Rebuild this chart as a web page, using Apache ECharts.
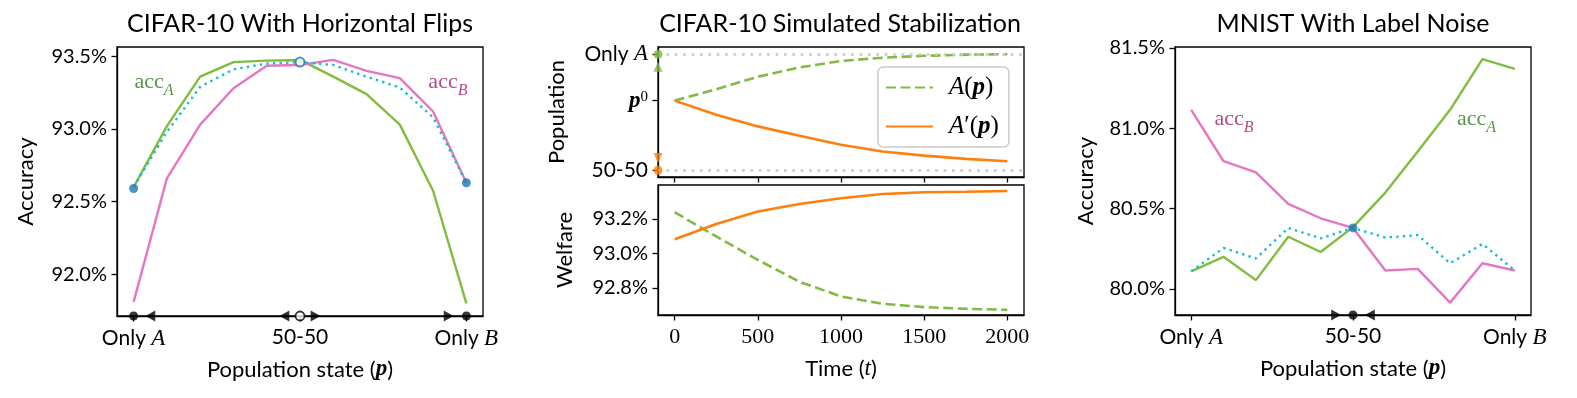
<!DOCTYPE html>
<html>
<head>
<meta charset="utf-8">
<script src="https://cdn.jsdelivr.net/npm/echarts@6/dist/echarts.min.js"></script>
<style>
  html, body { margin: 0; padding: 0; background: #fff; }
  #chart-container { width: 1577px; height: 398px; }
</style>
</head>
<body>
<div id="chart-container"></div>
<script>
// population state on the x axis: 0 = only A, 0.5 = 50-50, 1 = only B
var popStates = [0, 0.1, 0.2, 0.3, 0.4, 0.5, 0.6, 0.7, 0.8, 0.9, 1.0];
var popTickValues = [0, 0.5, 1];
var popTickLabels = ['Only A', '50-50', 'Only B'];

// CIFAR-10 with horizontal flips
var cifarAccA = [92.60, 93.02, 93.36, 93.46, 93.47, 93.475, 93.36, 93.24, 93.03, 92.575, 91.80];
var cifarAccB = [91.81, 92.66, 93.03, 93.28, 93.435, 93.44, 93.475, 93.40, 93.35, 93.12, 92.63];
var cifarWelfare = [92.60, 92.98, 93.29, 93.41, 93.45, 93.46, 93.44, 93.36, 93.285, 93.08, 92.63];
var cifarYTicks = [92.0, 92.5, 93.0, 93.5];
var cifarStable = [[0, 92.59], [1, 92.63]];
var cifarUnstable = [[0.5, 93.46]];
var cifarFlowLeft = [0.05, 0.453];
var cifarFlowRight = [0.547, 0.947];

// CIFAR-10 simulated stabilization
var timeSteps = [0, 250, 500, 750, 1000, 1250, 1500, 1750, 2000];
var timeTicks = [0, 500, 1000, 1500, 2000];
var popA = [0.80, 0.849, 0.903, 0.943, 0.971, 0.985, 0.993, 0.998, 1.0];
var popAprime = [0.80, 0.739, 0.689, 0.649, 0.610, 0.581, 0.563, 0.549, 0.539];
var welfareA = [93.239, 93.098, 92.962, 92.835, 92.750, 92.707, 92.688, 92.678, 92.672];
var welfareAprime = [93.082, 93.171, 93.243, 93.287, 93.320, 93.345, 93.355, 93.358, 93.362];
var popYTicks = [0.5, 0.8, 1.0];
var welfareYTicks = [92.8, 93.0, 93.2];

// MNIST with label noise
var mnistAccA = [80.11, 80.20, 80.055, 80.325, 80.23, 80.385, 80.60, 80.855, 81.115, 81.43, 81.37];
var mnistAccB = [81.115, 80.795, 80.725, 80.53, 80.44, 80.38, 80.115, 80.125, 79.915, 80.16, 80.115];
var mnistWelfare = [80.11, 80.255, 80.19, 80.38, 80.315, 80.38, 80.32, 80.335, 80.16, 80.28, 80.115];
var mnistYTicks = [80.0, 80.5, 81.0, 81.5];
var mnistStable = [[0.5, 80.38]];
var mnistFlowRight = [0.448];
var mnistFlowLeft = [0.552];

var GREEN = '#80bc40', PINK = '#e377c2', CYAN = '#17becf', ORANGE = '#ff7f0e', BLUE = '#1f77b4';
var SANS = 'Lato';
var SERIF = 'Liberation Serif';

var dom = document.getElementById('chart-container');
var myChart = echarts.init(dom, null, { renderer: 'canvas' });

var rich = {
  sn: { fontFamily: SANS, fontSize: 21, color: '#000' },
  it: { fontFamily: SERIF, fontStyle: 'italic', fontSize: 23, color: '#000' },
  bi: { fontFamily: SERIF, fontStyle: 'italic', fontWeight: 'bold', fontSize: 23, color: '#000' },
  sup: { fontFamily: SERIF, fontSize: 15, color: '#000', verticalAlign: 'top', lineHeight: 10 },
  lit: { fontFamily: SERIF, fontStyle: 'italic', fontSize: 25, color: '#000' },
  lbi: { fontFamily: SERIF, fontStyle: 'italic', fontWeight: 'bold', fontSize: 25, color: '#000' },
  lrm: { fontFamily: SERIF, fontSize: 25, color: '#000' }
};

function popLabel(v) {
  var i = popTickValues.indexOf(v);
  var s = i >= 0 ? popTickLabels[i] : '';
  if (s.indexOf('Only ') === 0) return '{sn|Only }{it|' + s.slice(5) + '}';
  return '{sn|' + s + '}';
}
function pct(d) { return function (v) { return v.toFixed(d) + '%'; }; }
function pairs(xs, ys) { return xs.map(function (x, i) { return [x, ys[i]]; }); }

var tickStyle = { show: true, length: 5.5, lineStyle: { color: '#000', width: 1.3 } };
var lineAx = { show: true, onZero: false, lineStyle: { color: '#000', width: 1.3 } };
var nameStyle = { fontFamily: SANS, fontSize: 22, color: '#000' };

function popXAxis(grid) {
  return {
    type: 'value', gridIndex: grid, min: -0.05, max: 1.05,
    axisLine: lineAx, splitLine: { show: false },
    axisTick: Object.assign({ customValues: popTickValues }, tickStyle),
    axisLabel: { customValues: popTickValues, formatter: popLabel, rich: rich, margin: 11 },
    name: '{sn|Population state (}{bi|p}{sn|)}', nameLocation: 'middle', nameGap: 42,
    nameTextStyle: Object.assign({ rich: { sn: { fontFamily: SANS, fontSize: 22, color: '#000' },
      bi: { fontFamily: SERIF, fontStyle: 'italic', fontWeight: 'bold', fontSize: 23, color: '#000' } } }, nameStyle)
  };
}
function accYAxis(grid, min, max, ticks, name, gap) {
  return {
    type: 'value', gridIndex: grid, min: min, max: max,
    axisLine: lineAx, splitLine: { show: false },
    axisTick: Object.assign({ customValues: ticks }, tickStyle),
    axisLabel: { customValues: ticks, formatter: pct(1), fontFamily: SANS, fontSize: 20, color: '#000', margin: 10 },
    name: name, nameLocation: 'middle', nameGap: gap, nameTextStyle: nameStyle
  };
}

function flow(grid, xs, y, rot) {
  return {
    type: 'scatter', xAxisIndex: grid, yAxisIndex: grid, clip: false, z: 5,
    symbol: 'triangle', symbolSize: [11, 10], symbolRotate: rot,
    itemStyle: { color: '#000' }, data: xs.map(function (x) { return [x, y]; })
  };
}
function dotsOnAxis(grid, xs, y, hollow) {
  return {
    type: 'scatter', xAxisIndex: grid, yAxisIndex: grid, clip: false, z: 6,
    symbol: 'circle', symbolSize: 9,
    itemStyle: hollow ? { color: '#fff', borderColor: '#000', borderWidth: 1.8 } : { color: '#000' },
    data: xs.map(function (x) { return [x, y]; })
  };
}
function curve(grid, xs, ys, color, extra) {
  return Object.assign({
    type: 'line', xAxisIndex: grid, yAxisIndex: grid, data: pairs(xs, ys),
    symbol: 'none', lineStyle: { color: color, width: 2.4 }, itemStyle: { color: color }
  }, extra || {});
}
function accLabel(grid, x, y, sub, color) {
  return {
    type: 'scatter', xAxisIndex: grid, yAxisIndex: grid, symbolSize: 1, silent: true, z: 7,
    itemStyle: { color: 'rgba(0,0,0,0)' },
    data: [[x, y]],
    label: {
      show: true, position: [0, 0], align: 'center', verticalAlign: 'middle',
      color: color, textBorderWidth: 0,
      formatter: '{rm|acc}{sub|' + sub + '}',
      rich: {
        rm: { fontFamily: SERIF, fontSize: 22, color: color, verticalAlign: 'top', lineHeight: 22 },
        sub: { fontFamily: SERIF, fontStyle: 'italic', fontSize: 16, color: color, verticalAlign: 'bottom', lineHeight: 27 }
      }
    }
  };
}

var CIFAR_MIN = 91.713, MNIST_MIN = 79.838;
var titleStyle = { fontFamily: SANS, fontSize: 25, fontWeight: 'normal', color: '#000' };
var LABEL_GREEN = '#2c7a18', LABEL_PINK = '#a01a6c';

option = {
  animation: false,
  textStyle: { fontFamily: SANS },
  title: [
    { text: 'CIFAR-10 With Horizontal Flips', left: 300, top: 11, textAlign: 'center', padding: 0, textStyle: titleStyle },
    { text: 'CIFAR-10 Simulated Stabilization', left: 840, top: 11, textAlign: 'center', padding: 0, textStyle: titleStyle },
    { text: 'MNIST With Label Noise', left: 1353, top: 11, textAlign: 'center', padding: 0, textStyle: titleStyle }
  ],
  legend: {
    data: ['A(p)', "A'(p)"], orient: 'vertical', left: 878, top: 67,
    padding: [8, 10, 8, 7], itemGap: 14, itemWidth: 47, itemHeight: 14,
    itemStyle: { opacity: 0 },
    backgroundColor: 'rgba(255,255,255,0.85)', borderColor: '#cccccc', borderWidth: 1.5, borderRadius: 5,
    formatter: function (n) {
      return n === 'A(p)' ? '{lit|A}{lrm|(}{lbi|p}{lrm|)}' : "{lit|A}{lrm|′(}{lbi|p}{lrm|)}";
    },
    textStyle: { padding: [0, 0, 0, 11], rich: rich }
  },
  grid: [
    { left: 117, top: 47, width: 366, height: 269, show: true, borderColor: '#000', borderWidth: 1.3 },
    { left: 658, top: 47, width: 366, height: 130, show: true, borderColor: '#000', borderWidth: 1.3 },
    { left: 658, top: 185, width: 366, height: 130, show: true, borderColor: '#000', borderWidth: 1.3 },
    { left: 1175, top: 47, width: 356, height: 268, show: true, borderColor: '#000', borderWidth: 1.3 }
  ],
  xAxis: [
    popXAxis(0),
    {
      type: 'value', gridIndex: 1, min: -100, max: 2100,
      axisLine: lineAx, splitLine: { show: false },
      axisTick: Object.assign({ customValues: timeTicks }, tickStyle),
      axisLabel: { show: false }
    },
    {
      type: 'value', gridIndex: 2, min: -100, max: 2100,
      axisLine: lineAx, splitLine: { show: false },
      axisTick: Object.assign({ customValues: timeTicks }, tickStyle),
      axisLabel: { customValues: timeTicks, formatter: function (v) { return String(v); },
        fontFamily: SERIF, fontSize: 22, color: '#000', margin: 11 },
      name: '{sn|Time (}{it|t}{sn|)}', nameLocation: 'middle', nameGap: 42,
      nameTextStyle: Object.assign({ rich: { sn: { fontFamily: SANS, fontSize: 22, color: '#000' },
        it: { fontFamily: SERIF, fontStyle: 'italic', fontSize: 23, color: '#000' } } }, nameStyle)
    },
    popXAxis(3)
  ],
  yAxis: [
    accYAxis(0, CIFAR_MIN, 93.564, cifarYTicks, 'Accuracy', 80),
    {
      type: 'value', gridIndex: 1, min: 0.471, max: 1.031,
      axisLine: lineAx, splitLine: { show: false },
      axisTick: Object.assign({ customValues: popYTicks }, tickStyle),
      axisLabel: {
        customValues: popYTicks, rich: rich, margin: 10,
        formatter: function (v) {
          if (v === 1) return '{sn|Only }{it|A}';
          if (v === 0.5) return '{sn|50-50}';
          return '{bi|p}{sup|0}';
        }
      },
      name: 'Population', nameLocation: 'middle', nameGap: 90, nameTextStyle: nameStyle
    },
    accYAxis(2, 92.642, 93.397, welfareYTicks, 'Welfare', 82),
    accYAxis(3, MNIST_MIN, 81.506, mnistYTicks, 'Accuracy', 78)
  ],
  series: [
    // panel 1
    curve(0, popStates, cifarAccA, GREEN),
    curve(0, popStates, cifarAccB, PINK),
    curve(0, popStates, cifarWelfare, CYAN, { lineStyle: { color: CYAN, width: 2.4, type: [2.4, 4.2] } }),
    { type: 'scatter', xAxisIndex: 0, yAxisIndex: 0, clip: false, z: 6, symbolSize: 9,
      itemStyle: { color: BLUE }, data: cifarStable },
    { type: 'scatter', xAxisIndex: 0, yAxisIndex: 0, clip: false, z: 6, symbolSize: 9,
      itemStyle: { color: '#fff', borderColor: BLUE, borderWidth: 2 }, data: cifarUnstable },
    dotsOnAxis(0, [0, 1], CIFAR_MIN, false),
    dotsOnAxis(0, [0.5], CIFAR_MIN, true),
    flow(0, cifarFlowLeft, CIFAR_MIN, 90),
    flow(0, cifarFlowRight, CIFAR_MIN, -90),
    accLabel(0, 0.063, 93.30, 'A', LABEL_GREEN),
    accLabel(0, 0.946, 93.30, 'B', LABEL_PINK),

    // panel 2 top
    curve(1, timeSteps, popA, GREEN, {
      name: 'A(p)', lineStyle: { color: GREEN, width: 2.6, type: [10, 4.5] },
      markLine: {
        silent: true, symbol: 'none', label: { show: false },
        lineStyle: { color: '#c8c8c8', width: 2.6, type: [2.6, 5.8] },
        data: [{ yAxis: 1.0 }, { yAxis: 0.5 }]
      }
    }),
    curve(1, timeSteps, popAprime, ORANGE, { name: "A'(p)", lineStyle: { color: ORANGE, width: 2.6 } }),
    { type: 'scatter', xAxisIndex: 1, yAxisIndex: 1, clip: false, z: 6, symbolSize: 9,
      itemStyle: { color: GREEN }, data: [[-100, 1.0]] },
    { type: 'scatter', xAxisIndex: 1, yAxisIndex: 1, clip: false, z: 6, symbol: 'triangle', symbolSize: [9, 10],
      itemStyle: { color: GREEN }, data: [[-100, 0.946]] },
    { type: 'scatter', xAxisIndex: 1, yAxisIndex: 1, clip: false, z: 6, symbol: 'triangle', symbolSize: [9, 10],
      symbolRotate: 180, itemStyle: { color: ORANGE }, data: [[-100, 0.553]] },
    { type: 'scatter', xAxisIndex: 1, yAxisIndex: 1, clip: false, z: 6, symbolSize: 9,
      itemStyle: { color: ORANGE }, data: [[-100, 0.5]] },

    // panel 2 bottom
    curve(2, timeSteps, welfareA, GREEN, { name: 'A(p)', lineStyle: { color: GREEN, width: 2.6, type: [10, 4.5] } }),
    curve(2, timeSteps, welfareAprime, ORANGE, { name: "A'(p)", lineStyle: { color: ORANGE, width: 2.6 } }),

    // panel 3
    curve(3, popStates, mnistAccA, GREEN),
    curve(3, popStates, mnistAccB, PINK),
    curve(3, popStates, mnistWelfare, CYAN, { lineStyle: { color: CYAN, width: 2.4, type: [2.4, 4.2] } }),
    { type: 'scatter', xAxisIndex: 3, yAxisIndex: 3, clip: false, z: 6, symbolSize: 9,
      itemStyle: { color: BLUE }, data: mnistStable },
    dotsOnAxis(3, [0.5], MNIST_MIN, false),
    flow(3, mnistFlowRight, MNIST_MIN, -90),
    flow(3, mnistFlowLeft, MNIST_MIN, 90),
    accLabel(3, 0.134, 81.035, 'B', LABEL_PINK),
    accLabel(3, 0.883, 81.035, 'A', LABEL_GREEN)
  ]
};

if (option && typeof option === 'object') {
  myChart.setOption(option);
}

window.addEventListener('resize', myChart.resize);
</script>
</body>
</html>
